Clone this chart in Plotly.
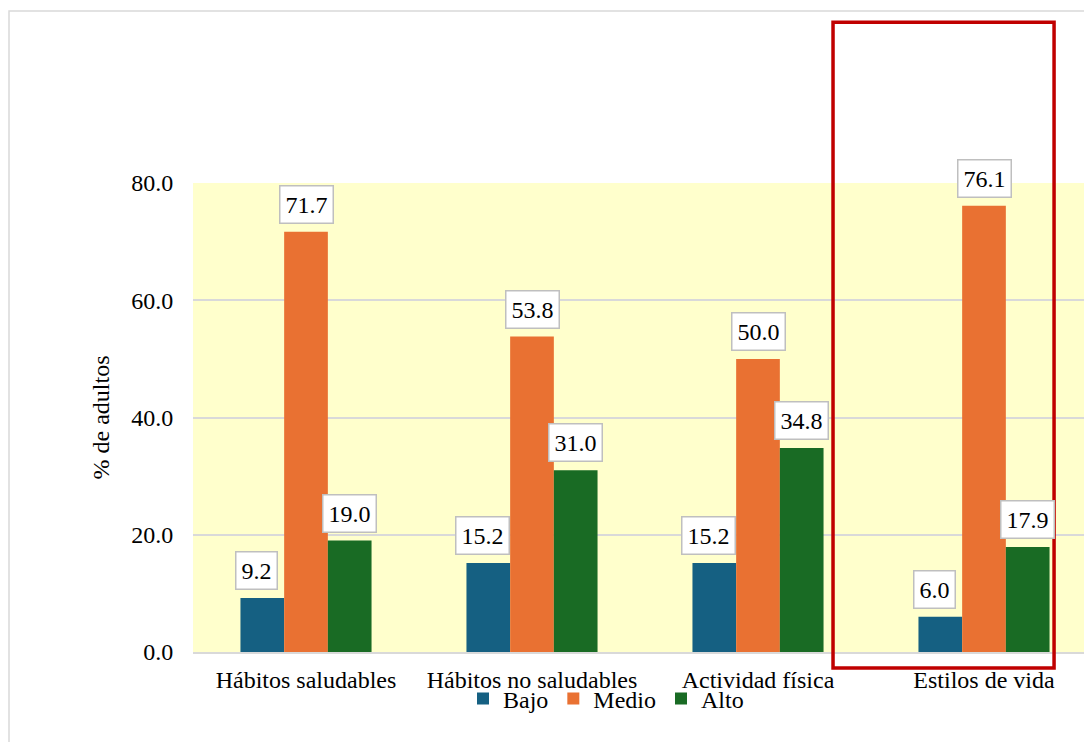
import plotly.graph_objects as go

categories = ["Hábitos saludables", "Hábitos no saludables", "Actividad física", "Estilos de vida"]
series_names = ["Bajo", "Medio", "Alto"]
bajo = [9.2, 15.2, 15.2, 6.0]
medio = [71.7, 53.8, 50.0, 76.1]
alto = [19.0, 31.0, 34.8, 17.9]
y_ticks = [0, 20, 40, 60, 80]

colors = ["#156082", "#E97132", "#196B24"]
series_values = [bajo, medio, alto]
FONT = "Liberation Serif, Times New Roman, serif"
bargap = 0.42
w = (1 - bargap) / 3
xpos = list(range(len(categories)))

fig = go.Figure()
for name, vals, col in zip(series_names, series_values, colors):
    fig.add_trace(go.Bar(x=xpos, y=vals, name=name, marker=dict(color=col, line=dict(width=0))))

annotations = []
for j, vals in enumerate(series_values):
    for i, v in enumerate(vals):
        annotations.append(dict(
            x=i + (j - 1) * w, y=v, xref="x", yref="y",
            text=f"{v:.1f}",
            showarrow=False, yanchor="bottom", yshift=8,
            xshift=-6 if j == 0 else 0,
            bgcolor="white", bordercolor="#BFBFBF", borderwidth=1.5, borderpad=5,
            font=dict(family=FONT, size=24, color="black"),
        ))

shapes = [
    # outer chart border
    dict(type="rect", xref="paper", yref="paper", x0=-0.2065, x1=1.05, y0=-0.4, y1=1.3667,
         line=dict(color="#D9D9D9", width=1.5), fillcolor="rgba(0,0,0,0)", layer="below"),
    # highlight around last category
    dict(type="rect", xref="x", yref="paper", x0=2.332, x1=3.31, y0=-0.034, y1=1.343,
         line=dict(color="#C00000", width=3.5), fillcolor="rgba(0,0,0,0)"),
]

fig.update_layout(
    width=1084, height=742,
    margin=dict(l=193, r=0, t=183, b=90),
    paper_bgcolor="white", plot_bgcolor="#FFFFCC",
    barmode="group", bargap=bargap, bargroupgap=0,
    font=dict(family=FONT, size=24, color="black"),
    showlegend=True,
    legend=dict(orientation="h", x=(463 - 193) / 891, xanchor="left", y=(652 - 699) / 469, yanchor="middle",
                font=dict(family=FONT, size=24, color="black"), bgcolor="rgba(0,0,0,0)",
                itemclick=False),
    annotations=annotations,
    shapes=shapes,
    xaxis=dict(range=[-0.5, 3.4425], tickvals=xpos, ticktext=categories, showgrid=False,
               ticks="outside", ticklen=5, tickcolor="rgba(0,0,0,0)",
               showline=True, linecolor="#D9D9D9", linewidth=1.5, zeroline=False,
               tickfont=dict(family=FONT, size=24, color="black")),
    yaxis=dict(range=[0, 80], tickvals=y_ticks, tickformat=".1f", showgrid=True,
               gridcolor="#D9D9D9", gridwidth=1.5, zeroline=False, showline=False,
               ticks="outside", ticklen=14, tickcolor="rgba(0,0,0,0)",
               tickfont=dict(family=FONT, size=24, color="black"),
               title=dict(text="% de adultos", standoff=14,
                          font=dict(family=FONT, size=24, color="black"))),
)
fig.write_html("out.html")
